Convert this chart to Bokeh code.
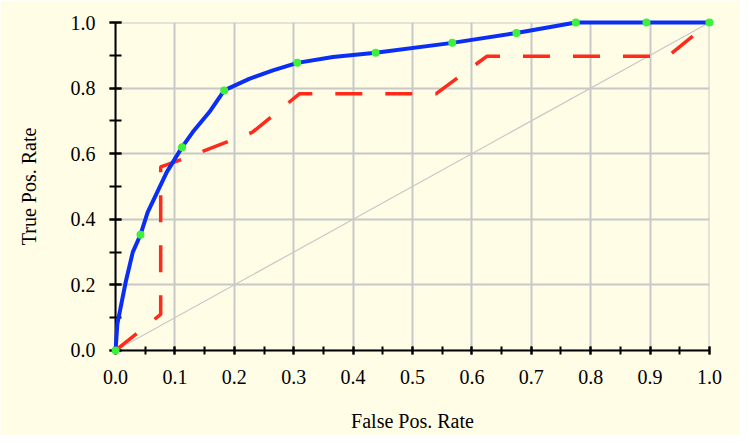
from bokeh.plotting import figure
from bokeh.models import SingleIntervalTicker, PrintfTickFormatter, Range1d
from bokeh.embed import file_html
from bokeh.resources import INLINE

# ROC curve (blue, solid)
roc_x = [0.0, 0.003, 0.017, 0.029, 0.042, 0.054, 0.070, 0.086, 0.112, 0.130, 0.158, 0.183,
         0.225, 0.265, 0.306, 0.366, 0.438, 0.567, 0.675, 0.775, 0.894, 1.0]
roc_y = [0.0, 0.080, 0.208, 0.300, 0.353, 0.421, 0.482, 0.543, 0.620, 0.666, 0.727, 0.793,
         0.828, 0.854, 0.877, 0.895, 0.908, 0.938, 0.968, 1.0, 1.0, 1.0]

# green threshold markers on the ROC curve
pt_x = [0.0, 0.042, 0.112, 0.183, 0.306, 0.438, 0.567, 0.675, 0.775, 0.894, 1.0]
pt_y = [0.0, 0.353, 0.620, 0.793, 0.877, 0.908, 0.938, 0.968, 1.0, 1.0, 1.0]

# second ROC curve (red, dashed)
alt_x = [0.0, 0.076, 0.076, 0.100, 0.230, 0.310, 0.540, 0.625, 0.930, 1.0]
alt_y = [0.0, 0.110, 0.560, 0.575, 0.665, 0.783, 0.783, 0.897, 0.897, 1.0]

# chance diagonal
diag_x = [0.0, 1.0]
diag_y = [0.0, 1.0]

x_label = "False Pos. Rate"
y_label = "True Pos. Rate"

CREAM = "#FFFDE6"
FONT = "Liberation Serif"

p = figure(width=740, height=435, output_backend="svg", toolbar_location=None,
           x_range=Range1d(-0.0001, 1.0001), y_range=Range1d(-0.0001, 1.0001),
           min_border_left=115, min_border_right=31, min_border_top=22, min_border_bottom=85,
           background_fill_color=CREAM, border_fill_color=CREAM, outline_line_color=None)

p.xaxis.ticker = SingleIntervalTicker(interval=0.1, num_minor_ticks=2)
p.yaxis.ticker = SingleIntervalTicker(interval=0.2, num_minor_ticks=2)
for ax in (p.xaxis, p.yaxis):
    ax.formatter = PrintfTickFormatter(format="%.1f")
    ax.axis_line_color = "black"
    ax.axis_line_width = 2
    ax.major_tick_line_color = "black"
    ax.minor_tick_line_color = "black"
    ax.major_tick_line_width = 2
    ax.minor_tick_line_width = 2
    ax.major_label_text_font = FONT
    ax.major_label_text_font_size = "20px"
    ax.major_label_text_color = "black"
    ax.axis_label_text_font = FONT
    ax.axis_label_text_font_size = "20px"
    ax.axis_label_text_font_style = "normal"
    ax.axis_label_text_color = "black"

p.xaxis.major_tick_in = 4
p.xaxis.major_tick_out = 4
p.xaxis.minor_tick_in = 4
p.xaxis.minor_tick_out = 4
p.xaxis.major_label_standoff = 15
p.xaxis.axis_label_standoff = 23
p.xaxis.axis_label = x_label

p.yaxis.major_tick_in = 6
p.yaxis.major_tick_out = 6
p.yaxis.minor_tick_in = 6
p.yaxis.minor_tick_out = 6
p.yaxis.major_label_standoff = 14
p.yaxis.axis_label_standoff = 28
p.yaxis.axis_label = y_label

for g in (p.xgrid, p.ygrid):
    g.grid_line_color = "#C8C8C8"
    g.grid_line_width = 2

p.line(diag_x, diag_y, line_color="#C8C8C8", line_width=1.2)
r1 = p.line(alt_x, alt_y, line_color="#FF2A1A", line_width=3.5, line_dash="27 23")
r2 = p.line(roc_x, roc_y, line_color="#0A2EF5", line_width=4)
r3 = p.scatter(pt_x, pt_y, size=8, marker="circle", fill_color="#3CF03C", line_color=None)
for r in (r1, r2, r3):
    r.level = "overlay"

open("out.html", "w").write(file_html(p, INLINE))
